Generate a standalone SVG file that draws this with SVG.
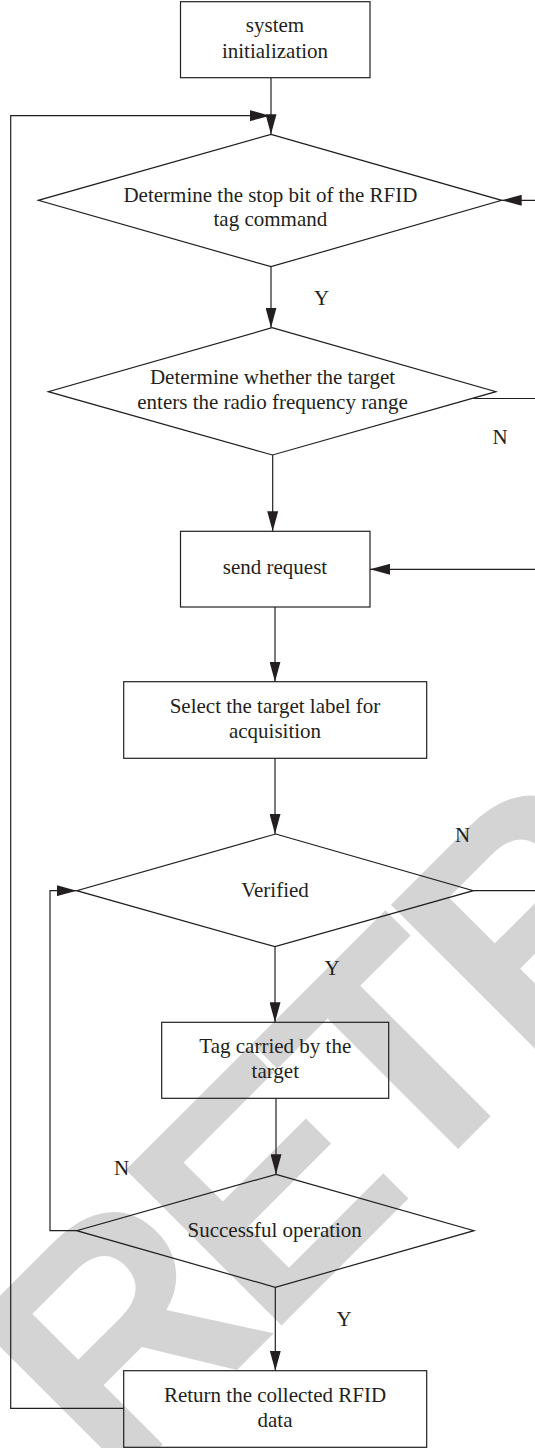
<svg xmlns="http://www.w3.org/2000/svg" width="535" height="1448" viewBox="0 0 535 1448">
<style>
.bg{fill:#ffffff}
.wm{fill:#d4d4d4;font-family:"Liberation Sans",Arial,sans-serif;font-weight:bold;font-size:320px;letter-spacing:-17px}
.shape{fill:none;stroke:#231f20;stroke-width:1.2}
.line{fill:none;stroke:#231f20;stroke-width:1.2}
.t{fill:#231f20;font-family:"Liberation Serif","Times New Roman",serif;font-size:21px;text-anchor:middle}
</style>
<defs>
<marker id="arr" markerUnits="userSpaceOnUse" markerWidth="20" markerHeight="11" refX="20" refY="5.5" orient="auto">
<path d="M0,0 L20,5.5 L0,11 Z" fill="#231f20"/>
</marker>
</defs>
<rect class="bg" x="0" y="0" width="535" height="1448"/>
<text class="wm" transform="translate(115,1492) rotate(-45)">RETRACTED</text>

<g id="connectors">
<line class="line" x1="271" y1="77.7" x2="271" y2="134.3" marker-end="url(#arr)"/>
<polyline class="line" points="123.7,1408.3 10.7,1408.3 10.7,115.7 270,115.7" marker-end="url(#arr)"/>
<line class="line" x1="535" y1="200.3" x2="501.7" y2="200.3" marker-end="url(#arr)"/>
<line class="line" x1="271" y1="266.7" x2="271" y2="327.7" marker-end="url(#arr)"/>
<line class="line" x1="473.3" y1="398.5" x2="535" y2="398.5"/>
<line class="line" x1="272.7" y1="455" x2="272.7" y2="531.3" marker-end="url(#arr)"/>
<line class="line" x1="535" y1="569.3" x2="370" y2="569.3" marker-end="url(#arr)"/>
<line class="line" x1="275" y1="607" x2="275" y2="681.7" marker-end="url(#arr)"/>
<line class="line" x1="275" y1="758.3" x2="275" y2="834" marker-end="url(#arr)"/>
<line class="line" x1="473.3" y1="890.7" x2="535" y2="890.7"/>
<line class="line" x1="275" y1="946.7" x2="275" y2="1022.3" marker-end="url(#arr)"/>
<line class="line" x1="276" y1="1098.3" x2="276" y2="1174.3" marker-end="url(#arr)"/>
<polyline class="line" points="76.7,1230.7 50,1230.7 50,890.7 76.7,890.7" marker-end="url(#arr)"/>
<line class="line" x1="275.3" y1="1287.3" x2="275.3" y2="1370.7" marker-end="url(#arr)"/>
<text class="t" x="321.7" y="305">Y</text>
<text class="t" x="500" y="444">N</text>
<text class="t" x="462.7" y="841.7">N</text>
<text class="t" x="332" y="975">Y</text>
<text class="t" x="121.7" y="1175">N</text>
<text class="t" x="344" y="1325.7">Y</text>
</g>

<g id="n1">
<rect class="shape" x="180.5" y="1.7" width="189.5" height="76"/>
<text class="t" x="275" y="32.3">system</text>
<text class="t" x="275" y="58.3">initialization</text>
</g>
<g id="n2">
<polygon class="shape" points="271,134.3 501.7,200.3 271,266.7 38.3,200.3"/>
<text class="t" x="270.4" y="201.7">Determine the stop bit of the RFID</text>
<text class="t" x="270.4" y="226">tag command</text>
</g>
<g id="n3">
<polygon class="shape" points="272,327.7 496,391.7 272.5,455 48.3,391.7"/>
<text class="t" x="272.5" y="384">Determine whether the target</text>
<text class="t" x="272.5" y="409.3">enters the radio frequency range</text>
</g>
<g id="n4">
<rect class="shape" x="180.5" y="531.3" width="189.5" height="75.7"/>
<text class="t" x="275" y="574.3">send request</text>
</g>
<g id="n5">
<rect class="shape" x="123.7" y="681.7" width="303" height="76.6"/>
<text class="t" x="275" y="713.3">Select the target label for</text>
<text class="t" x="275" y="738.3">acquisition</text>
</g>
<g id="n6">
<polygon class="shape" points="275.7,834 473.3,890.7 275,946.7 76.7,890.7"/>
<text class="t" x="275" y="896.7">Verified</text>
</g>
<g id="n7">
<rect class="shape" x="161.7" y="1022.3" width="227" height="76"/>
<text class="t" x="275.3" y="1053.3">Tag carried by the</text>
<text class="t" x="275.3" y="1078.3">target</text>
</g>
<g id="n8">
<polygon class="shape" points="276,1174.3 474,1230.7 275.3,1287.3 76.7,1230.7"/>
<text class="t" x="274.7" y="1236.7">Successful operation</text>
</g>
<g id="n9">
<rect class="shape" x="123.7" y="1370.7" width="303" height="76.6"/>
<text class="t" x="275" y="1401.7">Return the collected RFID</text>
<text class="t" x="275" y="1426.7">data</text>
</g>
</svg>
